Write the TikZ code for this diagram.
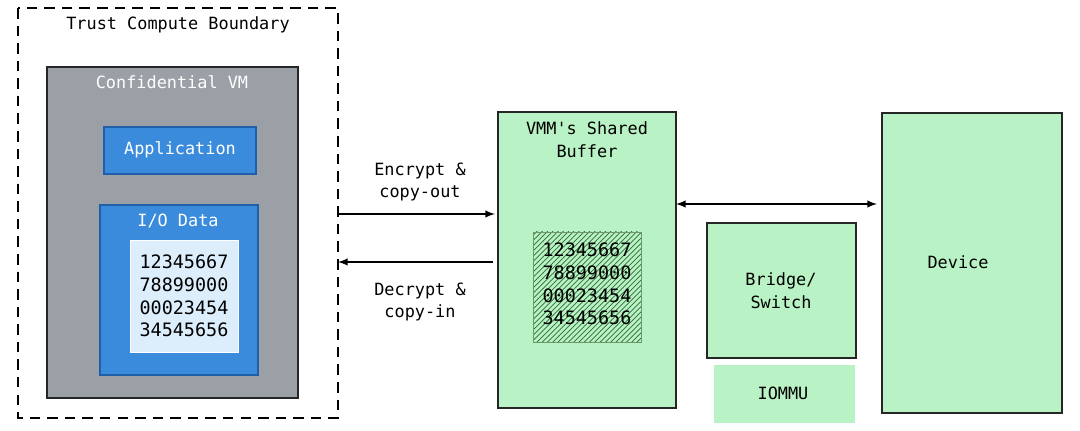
\documentclass[tikz,border=0pt]{standalone}
\usepackage{fontspec}
\setmainfont{DejaVu Sans Mono}
\usetikzlibrary{patterns}
\definecolor{vmgray}{HTML}{9AA0A6}
\definecolor{appblue}{HTML}{3A8BDB}
\definecolor{darkblue}{HTML}{1E5FA8}
\definecolor{paleblue}{HTML}{DCEEFB}
\definecolor{mint}{HTML}{B9F2C4}
\definecolor{hatch}{HTML}{2F6A36}
\tikzset{
  box/.style={draw=black!85, line width=0.9pt},
  lbl/.style={font=\fontsize{9.6}{13}\selectfont, align=center},
  arr/.style={-latex, line width=0.9pt}
}
\begin{document}
\begin{tikzpicture}[x=0.02cm, y=-0.02cm]
\useasboundingbox (0,0) rectangle (1080,431);
% trusted side
\draw[dash pattern=on 6pt off 4pt, line width=1pt] (18,8) rectangle (338,418);
\node[lbl] (tcb) at (178,25) {Trust Compute Boundary};
\draw[box, fill=vmgray] (47,67) rectangle (298,398);
\node[lbl, text=white] (cvm) at (172,82) {Confidential VM};
\draw[box, draw=darkblue, fill=appblue] (104,127) rectangle (256,174);
\node[lbl, text=white] (app) at (180,150) {Application};
\draw[box, draw=darkblue, fill=appblue] (100,205) rectangle (258,375);
\node[lbl, text=white] (io) at (178,221) {I/O Data};
\draw[draw=white, fill=paleblue] (130,240) rectangle (238,352);
\node[lbl, font=\fontsize{10.5}{13}\selectfont] (data) at (184,296) {12345667\\78899000\\00023454\\34545656};
% shared buffer
\draw[box, fill=mint] (498,112) rectangle (676,408);
\node[lbl] (vmm) at (587,140) {VMM\textquotesingle s Shared\\Buffer};
\draw[draw=hatch!70, pattern=north east lines, pattern color=hatch] (533,232) rectangle (641,342);
\node[lbl, font=\fontsize{10.5}{13}\selectfont] (buf) at (587,284) {12345667\\78899000\\00023454\\34545656};
% devices
\draw[box, fill=mint] (707,223) rectangle (856,358);
\node[lbl] (bridge) at (781,291) {Bridge/\\Switch};
\fill[mint] (714,365) rectangle (855,423);
\node[lbl] (iommu) at (783,393) {IOMMU};
\draw[box, fill=mint] (882,113) rectangle (1062,413);
\node[lbl] (dev) at (958,262) {Device};
% connectors
\coordinate (encA) at (338,214);
\coordinate (encB) at (495,214);
\coordinate (decA) at (493,262);
\coordinate (decB) at (338,262);
\coordinate (busA) at (676,204);
\coordinate (busB) at (877,204);
\draw[arr] (encA) -- (encB);
\draw[arr] (decA) -- (decB);
\draw[arr, latex-latex] (busA) -- (busB);
\node[lbl] (enc) at (420,182) {Encrypt \&\\copy-out};
\node[lbl] (dec) at (420,302) {Decrypt \&\\copy-in};
\end{tikzpicture}
\end{document}
